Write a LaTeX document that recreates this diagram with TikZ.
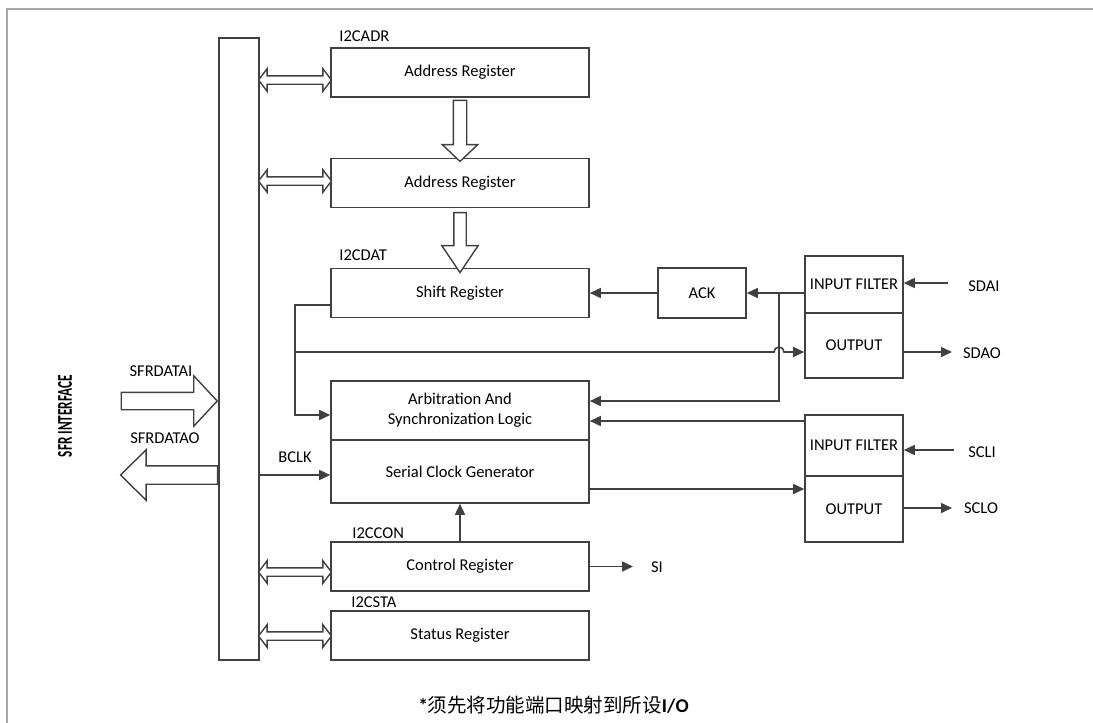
\documentclass[tikz,border=0pt]{standalone}
\usepackage{fontspec}
\setmainfont{Carlito}
\newfontfamily\cjkfont{Noto Sans CJK SC}
\definecolor{linegray}{HTML}{404040}
\definecolor{framegray}{HTML}{A8A8A8}
\usetikzlibrary{shapes,arrows.meta,positioning,calc}

\begin{document}
\begin{tikzpicture}[x=1pt,y=-1pt,
  font=\fontsize{16.5}{20}\selectfont,
  blk/.style={draw=linegray, line width=1.6pt, minimum width=258pt, minimum height=49pt, inner sep=0pt},
  tag/.style={anchor=south west, inner sep=0pt},
  sig/.style={draw=linegray, line width=1.6pt, -{Triangle[length=11pt,width=10pt]}},
  hol/.style={draw=linegray, line width=1.4pt, fill=white, inner xsep=0pt}]
\useasboundingbox (0,0) rectangle (1093,723);
\draw[framegray, line width=2pt] (6.5,723) -- (6.5,8.5) -- (1093,8.5);

% bus and registers
\node[blk, minimum width=40pt, minimum height=622pt] (bus) at (239,349) {};
\node[blk] (adr1) at (460,72.5) {Address Register};
\node[blk] (adr2) at (460,183) {Address Register};
\node[blk] (shift) at (460,293) {Shift Register};
\node[blk, minimum height=59pt, align=center] (arb) at (460,410.5) {Arbitration And\\Synchronization Logic};
\node[blk, minimum height=63pt] (scg) at (460,471.5) {Serial Clock Generator};
\node[blk] (ctrl) at (460,566.5) {Control Register};
\node[blk] (stat) at (460,635.5) {Status Register};
\node[tag] (tadr) at ([xshift=9pt,yshift=5pt]adr1.north west) {I2CADR};
\node[tag] (tdat) at ([xshift=9pt,yshift=7pt]shift.north west) {I2CDAT};
\node[tag] (tcon) at ([xshift=22pt,yshift=2pt]ctrl.north west) {I2CCON};
\node[tag] (tsta) at ([xshift=21pt,yshift=2pt]stat.north west) {I2CSTA};

% pins
\node[blk, minimum width=88pt, minimum height=50pt] (ack) at (702,293) {ACK};
\node[blk, minimum width=98pt, minimum height=57pt] (sdaf) at (854,284.5) {INPUT FILTER};
\node[blk, minimum width=98pt, minimum height=65pt] (sdao) at (854,345.5) {OUTPUT};
\node[blk, minimum width=98pt, minimum height=61pt] (sclf) at (854,445.5) {INPUT FILTER};
\node[blk, minimum width=98pt, minimum height=66pt] (sclo) at (854,509) {OUTPUT};
\node (tsdai) at (984,286) {SDAI};
\node (tsdao) at (982,353) {SDAO};
\node (tscli) at (982,452) {SCLI};
\node (tsclo) at (981,508) {SCLO};
\node (tsi) at (657,567) {SI};
\node (tbclk) at (295,457) {BCLK};
\node (tsfri) at (161,371) {SFRDATAI};
\node (tsfro) at (165,438) {SFRDATAO};
\node[rotate=90, font=\bfseries\fontsize{21}{24}\selectfont] (tsfr) at (65,416) {\scalebox{0.63}[1]{SFR INTERFACE}};
\node[font=\fontsize{19.5}{23}\selectfont] (tnote) at (553.5,705) {\textbf{*}{\cjkfont 须先将功能端口映射到所设}\textbf{I/O}};

% hollow bus arrows
\foreach \b/\dy in {adr1/7.5, adr2/-2, ctrl/5.5, stat/0.5}
  \node[hol, double arrow, minimum height=73pt, minimum width=21pt, inner ysep=3.5pt,
        double arrow head extend=7pt, double arrow tip angle=105]
    (dbl-\b) at ($(bus.east |- \b.west)!0.5!(\b.west)+(0,\dy)$) {};
\node[hol, single arrow, rotate=-90, minimum height=61pt, minimum width=34pt, inner ysep=6pt,
      single arrow head extend=11pt, single arrow tip angle=93]
  (down1) at ($(adr1.south)!0.5!(adr2.north)$) {};
\node[hol, single arrow, rotate=-90, minimum height=60pt, minimum width=35pt, inner ysep=5.5pt,
      single arrow head extend=12pt, single arrow tip angle=68]
  (down2) at ($(adr2.south)!0.5!(shift.north)$) {};
\node[hol, single arrow, anchor=tip, minimum height=96pt, minimum width=49pt, inner ysep=8pt,
      single arrow head extend=16.5pt, single arrow tip angle=94]
  (sfri) at ([yshift=-52pt]bus.west) {};
\node[hol, single arrow, rotate=180, anchor=tail, minimum height=97pt, minimum width=49pt, inner ysep=8.5pt,
      single arrow head extend=16pt, single arrow tip angle=89]
  (sfro) at ([yshift=-126pt]bus.west) {};

% signal paths
\coordinate (pSDAI) at (948,283);
\coordinate (pSDAO) at (952,352);
\coordinate (pSCLI) at (954,450);
\coordinate (pSCLO) at (952,508);
\coordinate (pSI) at (633,566.5);
\coordinate (jSDA) at (779,293);
\coordinate (tap) at (295,352);
\coordinate (hop) at (774,352);
\path ([yshift=-3.5pt]scg.west) coordinate (cBCLK);
\draw[sig] (pSDAI) -- (pSDAI -| sdaf.east);
\draw[sig] (pSDAO -| sdao.east) -- (pSDAO);
\draw[sig] (pSCLI) -- (pSCLI -| sclf.east);
\draw[sig] (pSCLO -| sclo.east) -- (pSCLO);
\draw[sig] (ctrl.east) -- (pSI);
\draw[sig] (ctrl.north) -- (scg.south);
\draw[sig] (bus.east |- cBCLK) -- (cBCLK);
\draw[sig] (ack.west) -- (ack.west -| shift.east);
\draw[sig] (sdaf.west |- ack.east) -- (ack.east);
\draw[sig] (jSDA) |- ([yshift=9.5pt]arb.east);
\draw[sig] ([yshift=24.5pt]sclf.west) coordinate (s1) -- (s1 -| arb.east);
\draw[sig] ([yshift=-17.5pt]scg.east) coordinate (s2) -- (s2 -| sclo.west);
\draw[sig] ([yshift=-12pt]shift.west) -| (tap) |- ([yshift=-4.5pt]arb.west);
\draw[sig] (tap) -- (hop) arc[start angle=180, end angle=0, radius=5pt] -- (tap -| sdao.west);
\end{tikzpicture}
\end{document}
